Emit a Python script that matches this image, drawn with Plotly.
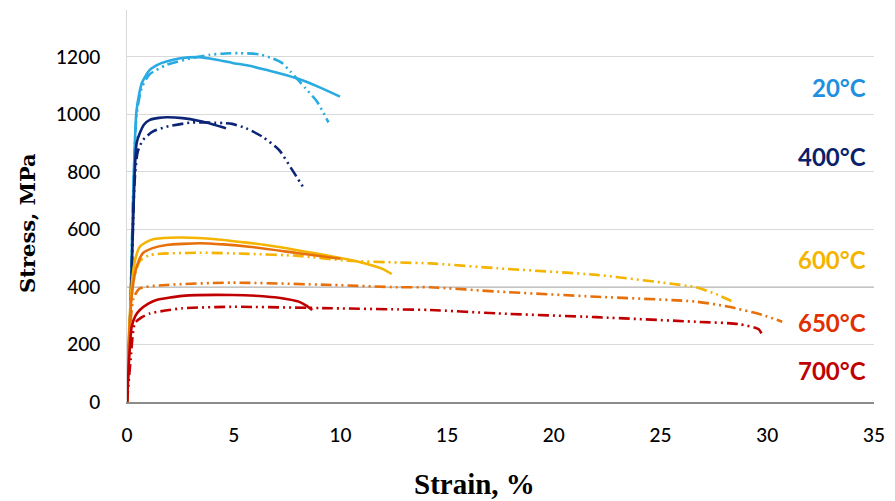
import plotly.graph_objects as go

# ---- data ----
x20_solid = [0, 0.15, 0.3, 0.45, 0.7, 1.07, 1.5, 1.85, 2.5, 3.4, 4.2, 4.95, 5.8, 6.5, 7.3, 8.05, 9.0, 9.98]
y20_solid = [0, 300, 750, 1016, 1110, 1155, 1175, 1184, 1195, 1199, 1190, 1179, 1168, 1155, 1140, 1123, 1095, 1062]
x20_dash = [0, 0.15, 0.3, 0.45, 0.7, 1.07, 1.85, 3.0, 3.86, 4.6, 5.26, 6.19, 6.8, 7.26, 7.66, 8.36, 8.9, 9.44]
y20_dash = [0, 300, 740, 1000, 1095, 1140, 1172, 1195, 1207, 1212, 1213, 1209, 1195, 1179, 1149, 1091, 1045, 972]

x400_solid = [0, 0.2, 0.35, 0.45, 0.6, 0.8, 1.07, 1.5, 1.85, 2.6, 3.4, 4.0, 4.64]
y400_solid = [0, 400, 780, 900, 935, 965, 981, 988, 990, 987, 977, 966, 952]
x400_dash = [0, 0.2, 0.35, 0.5, 0.75, 1.2, 1.85, 3.07, 4.47, 4.93, 5.57, 6.33, 7.12, 7.74, 8.28]
y400_dash = [0, 390, 760, 870, 911, 940, 957, 972, 970, 967, 952, 923, 877, 807, 744]

x600_solid = [0, 0.1, 0.25, 0.4, 0.6, 0.9, 1.23, 2.0, 2.6, 4.17, 5.5, 6.5, 8.82, 10.84, 12.0, 12.4]
y600_solid = [0, 250, 430, 500, 540, 556, 566, 571, 572, 566, 555, 546, 517, 488, 462, 445]
x600_dash = [0, 0.1, 0.3, 0.6, 1.07, 3.4, 5.72, 8.05, 10.37, 12.7, 14.2, 17.35, 22, 25.1, 26.65, 27.6, 28.5]
y600_dash = [0, 220, 420, 490, 511, 519, 515, 508, 491, 485, 482, 465, 442, 415, 399, 375, 345]

x650_solid = [0, 0.1, 0.25, 0.45, 0.75, 1.2, 1.85, 3.4, 4.5, 5.72, 8.05, 10.0]
y650_solid = [0, 230, 390, 470, 518, 535, 546, 552, 548, 540, 517, 498]
x650_dash = [0, 0.1, 0.3, 0.6, 1.85, 4.93, 9.58, 12.7, 14.2, 17.35, 22, 26.65, 28.2, 29.75, 30.7]
y650_dash = [0, 200, 360, 395, 407, 415, 407, 399, 399, 384, 366, 349, 331, 303, 279]

x700_solid = [0, 0.1, 0.22, 0.4, 0.6, 1.0, 1.38, 2.6, 4.93, 6.5, 7.26, 8.05, 8.4, 8.68]
y700_solid = [0, 150, 262, 300, 320, 342, 355, 369, 372, 367, 361, 349, 335, 320]
x700_dash = [0, 0.15, 0.37, 0.7, 1.07, 1.8, 2.6, 4.93, 9.58, 12.7, 14.2, 17.35, 22, 26.65, 28.65, 29.6, 29.8]
y700_dash = [0, 130, 274, 295, 308, 318, 326, 331, 326, 322, 320, 308, 295, 279, 271, 253, 227]

labels = ["20°C", "400°C", "600°C", "650°C", "700°C"]
label_y = [1092, 852, 494, 275, 111]
x_ticks = [0, 5, 10, 15, 20, 25, 30, 35]
y_ticks = [0, 200, 400, 600, 800, 1000, 1200]
x_title = "Strain, %"
y_title = "Stress, MPa"

# ---- styles ----
line_colors = ["#29abe2", "#0c2577", "#f5b400", "#e8700a", "#c00000"]
label_colors = ["#1e90e0", "#0b1f6b", "#f5b400", "#e03000", "#c00000"]
DASH = "11px,4px,2px,4px,2px,4px"

series = [
    (x20_solid, y20_solid, x20_dash, y20_dash),
    (x400_solid, y400_solid, x400_dash, y400_dash),
    (x600_solid, y600_solid, x600_dash, y600_dash),
    (x650_solid, y650_solid, x650_dash, y650_dash),
    (x700_solid, y700_solid, x700_dash, y700_dash),
]

fig = go.Figure()
for (xs, ys, xd, yd), c, name in zip(series, line_colors, labels):
    fig.add_trace(go.Scatter(x=xd, y=yd, mode="lines", name=name + " b",
                             line=dict(color=c, width=2.6, dash=DASH, shape="spline", smoothing=0.6)))
    fig.add_trace(go.Scatter(x=xs, y=ys, mode="lines", name=name,
                             line=dict(color=c, width=2.6, shape="spline", smoothing=0.6)))

for t, yv, c in zip(labels, label_y, label_colors):
    fig.add_annotation(x=34.7, y=yv, xref="x", yref="y", text=t, showarrow=False,
                       xanchor="right", yanchor="middle",
                       font=dict(family="Lato, Open Sans, sans-serif", size=24, color=c, weight="bold"))

# axis titles placed as annotations
fig.add_annotation(x=0.4648, y=-0.209, xref="paper", yref="paper", text=x_title, showarrow=False,
                   xanchor="center", yanchor="middle",
                   font=dict(family="Liberation Serif, serif", size=29, color="black", weight="bold"))
fig.add_annotation(x=-0.134, y=0.4566, xref="paper", yref="paper", text=y_title, showarrow=False,
                   textangle=-90, xanchor="center", yanchor="middle",
                   font=dict(family="DejaVu Serif, serif", size=21, color="black", weight="bold"))

# darker gridlines at 200 and 400 as in the reference
for yv in [200, 400]:
    fig.add_shape(type="line", xref="paper", yref="y", x0=0, x1=1, y0=yv, y1=yv,
                  line=dict(color="#8c8c8c", width=1.2), layer="below")

fig.update_layout(
    width=895, height=501,
    margin=dict(l=127, r=15, t=10, b=99),
    plot_bgcolor="white", paper_bgcolor="white",
    showlegend=False,
    xaxis=dict(range=[0, 35], tickvals=x_ticks, showgrid=False, zeroline=False,
               showline=True, linecolor="#8c8c8c", linewidth=1.5,
               ticks="", ticklabelstandoff=15,
               tickfont=dict(family="Lato, sans-serif", size=19, color="black", weight=500)),
    yaxis=dict(range=[0, 1363], tickvals=y_ticks, showgrid=True, gridcolor="#d9d9d9", gridwidth=1,
               zeroline=False, showline=True, linecolor="#d9d9d9", linewidth=1,
               ticks="", ticklabelstandoff=22,
               tickfont=dict(family="Lato, sans-serif", size=19, color="black", weight=500)),
)

fig.write_html("out.html")
